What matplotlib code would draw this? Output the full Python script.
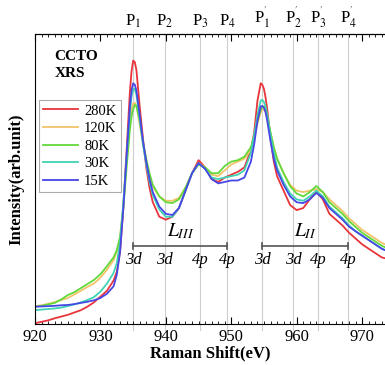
import numpy as np
import matplotlib.pyplot as plt
import matplotlib
from matplotlib.ticker import MultipleLocator

matplotlib.rcParams['font.family'] = ['Liberation Serif', 'DejaVu Serif']
matplotlib.rcParams['mathtext.fontset'] = 'stix'

# ── data (arb. units 0..100) ──────────────────────────────────────────────
energy = [920, 921, 922, 923, 924, 925, 926, 927, 928, 929, 930, 931, 932, 932.5,
          933, 933.5, 934, 934.5, 934.75, 935, 935.25, 935.5, 936, 936.5, 937,
          937.5, 938, 939, 940, 941, 942, 943, 944, 945, 946, 947, 948, 949,
          950, 951, 952, 953, 953.5, 954, 954.5, 954.75, 955, 955.25, 955.5,
          956, 956.5, 957, 958, 959, 960, 961, 962, 963, 964, 965, 966, 967,
          968, 969, 970, 971, 972, 973, 973.5]

i_280K = [0.3, 0.8, 1.3, 2.0, 2.6, 3.2, 4.0, 4.8, 6.0, 7.5, 9.5, 11.5, 15.0, 18,
          25, 40, 60, 80, 87, 90.8, 90.3, 87.5, 75, 64, 54,
          47, 42, 37, 36, 37, 40, 46, 52, 56.5, 54, 50, 49, 50.5,
          51.5, 52.5, 54, 60, 66, 77, 83, 82.5, 81, 78, 74,
          64, 56, 51, 46, 41, 39.3, 40, 43, 45.7, 43, 38, 36, 34,
          31.5, 29.5, 27.5, 26, 24.5, 23, 22.7]

i_120K = [6.2, 6.5, 7, 7.6, 8.3, 9, 10.2, 11.5, 12.8, 14, 16, 18.8, 22, 25,
          30, 41, 56, 70, 74, 76, 76.3, 75, 69, 62, 56,
          51, 47.5, 44, 42.5, 42.5, 43.5, 47, 52, 55.5, 54, 51.5, 51, 53,
          55, 56, 57, 60, 64, 69, 73, 74, 74, 73, 71,
          66, 61, 57, 52, 48, 46, 45.5, 46, 46.5, 45.5, 43, 41, 39,
          36.5, 34.5, 32.5, 31, 29.5, 28, 27.5]

i_80K = [6.0, 6.3, 6.8, 7.3, 8.5, 10, 11, 12.4, 13.8, 15.2, 17.2, 20, 23, 25.5,
         30, 40, 54, 67, 71.5, 74, 75.5, 75.3, 70, 63, 57,
         52, 48, 44, 42, 41.7, 43, 47, 52, 55, 54, 52, 52, 54.5,
         56, 56.5, 57.7, 61, 65, 70, 74, 74.8, 75, 74, 72,
         66, 61, 57, 52, 47.5, 45, 44, 45.5, 47.6, 45.5, 42, 40, 38,
         35.5, 33.5, 31.5, 30, 28.5, 27, 26.5]

i_30K = [4.8, 5.0, 5.2, 5.4, 5.7, 6.2, 6.8, 7.5, 8.3, 9.3, 11.2, 14, 17.6, 21,
         28, 42, 58, 73, 78.5, 81, 81, 79, 71, 62, 55,
         49, 44.5, 39.5, 37, 37, 40, 46, 52, 55.5, 53.5, 50.5, 50, 50.5,
         51, 51.5, 53, 59, 65, 72, 77, 77.3, 76.5, 75, 72,
         65, 59, 54, 49, 45, 43, 42.5, 44, 46, 44, 40.5, 38.5, 36.5,
         34, 32, 30.5, 29, 27.5, 26, 25.5]

i_15K = [6.0, 6.1, 6.2, 6.3, 6.5, 6.6, 6.9, 7.3, 7.7, 8.2, 9.0, 10.5, 13, 17,
         25, 40, 58, 75, 80.5, 83, 82.5, 80.5, 72, 63, 56,
         50, 45.5, 40.5, 38, 37.6, 40, 46, 52, 55.5, 53.5, 50, 48.5, 49,
         49.5, 49.5, 50.5, 56, 62, 70, 75, 75.2, 74.5, 73, 70,
         63, 57, 53, 48, 44, 42, 41.7, 43, 45.2, 43.5, 40, 38, 36,
         33.6, 32, 30.5, 29, 27.5, 26, 25.5]

series = [("280K", i_280K, "#e8353b"),
          ("120K", i_120K, "#f2c36a"),
          ("80K",  i_80K,  "#62d93a"),
          ("30K",  i_30K,  "#3fd3b3"),
          ("15K",  i_15K,  "#4747e6")]

# peak positions (top labels)
peak_pos    = [935.0, 939.8, 945.2, 949.4, 954.7, 959.5, 963.3, 967.9]
peak_labels = [r"P$_1$", r"P$_2$", r"P$_3$", r"P$_4$",
               r"P$_1^{'}$", r"P$_2^{'}$", r"P$_3^{'}$", r"P$_4^{'}$"]
orb_labels  = ["3d", "3d", "4p", "4p", "3d", "3d", "4p", "4p"]

# ── figure ────────────────────────────────────────────────────────────────
fig = plt.figure(figsize=(3.85, 3.65), dpi=100)
ax = fig.add_axes([0.091, 0.112, 0.909, 0.795])

for p in peak_pos:
    ax.axvline(p, ymin=-0.02, ymax=1, color="#cfcfcf", lw=0.8, clip_on=False, zorder=0)

for name, vals, col in series:
    ax.plot(energy, vals, color=col, lw=1.3, label=name)

ax.set_xlim(920, 973.5)
ax.set_ylim(0, 100)
ax.set_yticks([])
ax.xaxis.set_major_locator(MultipleLocator(10))
ax.xaxis.set_minor_locator(MultipleLocator(1))
ax.tick_params(axis="x", which="both", direction="in", top=True, labelsize=12)
ax.tick_params(axis="x", which="major", length=5)
ax.tick_params(axis="x", which="minor", length=2.5)
ax.spines["right"].set_visible(False)

sec = ax.secondary_xaxis("top")
sec.set_xticks(peak_pos)
sec.set_xticklabels(peak_labels, fontsize=12)
sec.tick_params(length=0, pad=3)

ax.set_xlabel("Raman Shift(eV)", fontsize=12, fontweight="bold", labelpad=0)
ax.set_ylabel("Intensity(arb.unit)", fontsize=12, fontweight="bold", labelpad=8)

# L_III / L_II brackets
for x0, x1, lab in [(peak_pos[0], peak_pos[3], r"$L_{III}$"),
                    (peak_pos[4], peak_pos[7], r"$L_{II}$")]:
    ax.plot([x0, x1], [27, 27], color="#555555", lw=1.2)
    ax.plot([x0, x0], [26, 28], color="#555555", lw=1.2)
    ax.plot([x1, x1], [26, 28], color="#555555", lw=1.2)
    ax.text((x0 + x1) / 2, 28.5, lab, ha="center", va="bottom", fontsize=14)

for p, lab in zip(peak_pos, orb_labels):
    ax.text(p, 25, lab, ha="center", va="top", fontsize=12, style="italic")

ax.text(923, 94.5, "CCTO\nXRS", ha="left", va="top", fontsize=11,
        fontweight="bold", linespacing=1.45)

leg = ax.legend(loc="upper left", bbox_to_anchor=(0.101, 0.726),
                bbox_transform=fig.transFigure, borderaxespad=0,
                fontsize=10.5, frameon=True, fancybox=False, handlelength=2.4,
                handletextpad=0.4, labelspacing=0.3, borderpad=0.3)
leg.get_frame().set_edgecolor("#999999")
leg.get_frame().set_linewidth(0.8)

plt.savefig("out.png", dpi=100)
